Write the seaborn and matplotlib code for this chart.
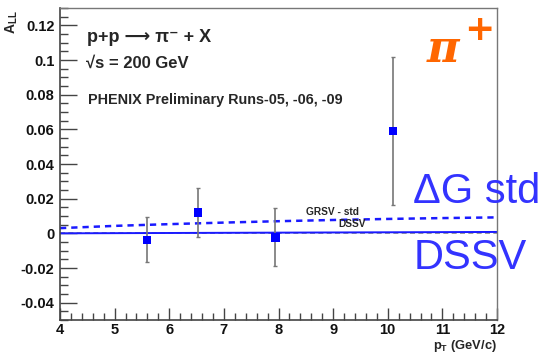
import numpy as np
import pandas as pd
import matplotlib
matplotlib.use("Agg")
import matplotlib.pyplot as plt
from matplotlib.ticker import MultipleLocator
import seaborn as sns

# Measured asymmetry points
pt = [5.59, 6.53, 7.94, 10.10]
all_vals = [-0.0038, 0.0120, -0.0023, 0.0590]
all_err = [0.0130, 0.0143, 0.0167, 0.0425]

# Theory curves
pt_curve = [4, 5, 6, 7, 8, 9, 10, 11, 12]
grsv_std = [0.0030, 0.0043, 0.0053, 0.0062, 0.0070, 0.0077, 0.0083, 0.0088, 0.0092]
dssv = [0.0000, 0.0001, 0.0002, 0.0003, 0.0004, 0.0005, 0.0006, 0.0007, 0.0008]

y_ticks = [-0.04, -0.02, 0, 0.02, 0.04, 0.06, 0.08, 0.1, 0.12]
y_tick_labels = ["-0.04", "-0.02", "0", "0.02", "0.04", "0.06", "0.08", "0.1", "0.12"]

sns.set_theme(style="white")
plt.rcParams["font.family"] = ["Liberation Sans", "DejaVu Sans"]
plt.rcParams["mathtext.fontset"] = "custom"
plt.rcParams["mathtext.rm"] = "Liberation Sans"
plt.rcParams["mathtext.it"] = "Liberation Sans:italic"
plt.rcParams["mathtext.bf"] = "Liberation Sans:bold"

pts = pd.DataFrame({"pt": pt, "all": all_vals, "err": all_err})
curves = pd.DataFrame({"pt": pt_curve, "GRSV - std": grsv_std, "DSSV": dssv})

W, H = 545, 355
fig = plt.figure(figsize=(W / 100, H / 100), dpi=100)
ax = fig.add_axes([60 / W, 1 - 320 / H, 437 / W, 312 / H])


def fx(px):
    return px / W


def fy(py):
    return 1 - py / H


ax.set_xlim(4, 12)
ax.set_ylim(-0.05, 0.13)

# zero reference
ax.axhline(0, color="#888888", lw=1.2, ls=(0, (3, 2)), zorder=1)

sns.lineplot(data=curves, x="pt", y="GRSV - std", ax=ax, color="#1a1aff",
             lw=1.8, linestyle=(0, (2.5, 2)), zorder=2)
sns.lineplot(data=curves, x="pt", y="DSSV", ax=ax, color="#1a1aff",
             lw=1.4, zorder=2)

ax.errorbar(pts["pt"], pts["all"], yerr=pts["err"], fmt="none",
            ecolor="#777777", elinewidth=1.2, capsize=1.5, capthick=1.0, zorder=3)
sns.scatterplot(data=pts, x="pt", y="all", ax=ax, marker="s", s=38,
                color="#0000ff", edgecolor="none", zorder=4)

ax.set_xlabel("")
ax.set_ylabel("")

ax.xaxis.set_major_locator(MultipleLocator(1))
ax.xaxis.set_minor_locator(MultipleLocator(0.2))
ax.yaxis.set_minor_locator(MultipleLocator(0.005))
ax.set_yticks(y_ticks)
ax.set_yticklabels(y_tick_labels)

ax.tick_params(axis="both", which="both", direction="in", top=False, right=False,
               bottom=True, left=True, color="#444444", width=1.0)
ax.tick_params(axis="y", which="major", length=12, pad=4)
ax.tick_params(axis="y", which="minor", length=6)
ax.tick_params(axis="x", which="major", length=9, pad=2)
ax.tick_params(axis="x", which="minor", length=5)
for lab in ax.get_xticklabels() + ax.get_yticklabels():
    lab.set_fontweight("bold")
    lab.set_fontsize(10.5)
    lab.set_color("#111111")

for side in ["left", "bottom"]:
    ax.spines[side].set_color("#444444")
    ax.spines[side].set_linewidth(1.2)
for side in ["top", "right"]:
    ax.spines[side].set_color("#777777")
    ax.spines[side].set_linewidth(1.0)

# axis titles
fig.text(fx(12), fy(22), r"$\mathbf{A_{LL}}$", rotation=90,
         ha="center", va="center", fontsize=10)
fig.text(fx(497), fy(346), r"$\mathbf{p_{T}}$ (GeV/c)", ha="right",
         va="center", fontsize=9.3, fontweight="bold")

# annotations
fig.text(fx(87), fy(37), "p+p \u27f6 \u03c0\u207b + X", fontsize=13,
         fontweight="bold", va="center")
fig.text(fx(86), fy(63), "\u221as = 200 GeV", fontsize=12,
         fontweight="bold", va="center")
fig.text(fx(88), fy(100), "PHENIX Preliminary Runs-05, -06, -09",
         fontsize=10.4, fontweight="bold", va="center")
fig.text(fx(306), fy(212), "GRSV - std", fontsize=7.3,
         fontweight="bold", va="center")
fig.text(fx(338), fy(224), "DSSV", fontsize=7.3,
         fontweight="bold", va="center")

fig.text(fx(427), fy(49), "\u03c0", color="#ff6600",
         fontsize=32, fontweight="bold", va="center", family="DejaVu Serif",
         style="italic")
fig.text(fx(464), fy(30), "+", color="#ff6600",
         fontsize=26, fontweight="bold", va="center", family="DejaVu Sans")
fig.text(fx(413), fy(192), "\u0394G std", color="#3333ff",
         fontsize=30, va="center")
fig.text(fx(414), fy(258), "DSSV", color="#3333ff",
         fontsize=30, va="center")

fig.savefig("out.png", dpi=100)
